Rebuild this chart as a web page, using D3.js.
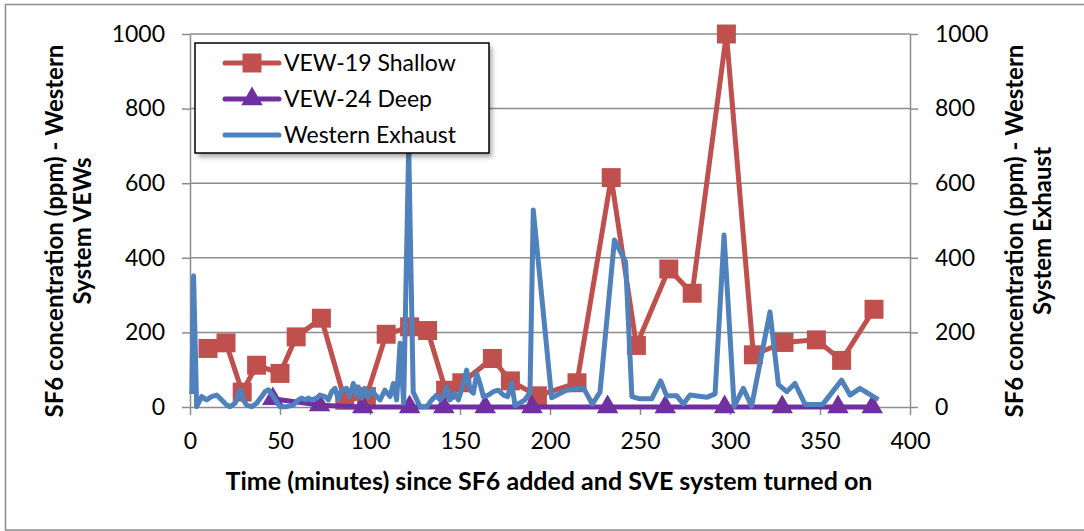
<!DOCTYPE html>
<html>
<head>
<meta charset="utf-8">
<script src="https://cdn.jsdelivr.net/npm/d3@7"></script>
<style>
  body { margin: 0; background: #fff; }
  svg { display: block; font-family: Lato, "Open Sans", sans-serif; }
</style>
</head>
<body>
<svg id="chart"></svg>
<script>
// series names
const seriesNames = ["VEW-19 Shallow", "VEW-24 Deep", "Western Exhaust"];

// VEW-19 Shallow (left axis)
const shallowTime = [10, 20, 29, 37, 50, 59, 73, 86, 98, 109, 122, 132, 142, 151,
  168, 178, 193, 215, 234, 248, 266, 279, 298, 313, 330, 348, 362, 380];
const shallowValue = [157, 172, 40, 112, 90, 188, 238, 18, 28, 195, 215, 205, 45, 65,
  130, 70, 30, 65, 615, 165, 370, 305, 1000, 140, 173, 180, 125, 262];

// VEW-24 Deep (left axis)
const deepTime = [46, 72, 96, 122, 141, 164, 190, 232, 264, 297, 329, 360, 379];
const deepValue = [22, 5, 0, 0, 0, 0, 0, 0, 0, 0, 0, 0, 0];

// Western Exhaust (right axis)
const exhaustTime = [
  1, 2, 3.7, 6.5, 9.3, 12, 14.8, 17.6, 20.4, 22.2,
  25, 27.8, 29.6, 31.5, 34.3, 37, 39.8, 41.7, 43.5, 46.3,
  48.1, 50, 53.7, 57.4, 60.2, 62, 63.9, 65.7, 67.6, 70.4,
  72.2, 75, 76.9, 78.7, 80.6, 82.4, 84.3, 87, 88.9, 90.7,
  92.6, 93.5, 95.4, 97.2, 99.1, 100.9, 103.7, 105.6, 108.3, 111.1,
  113, 114.8, 116.7, 118.7, 121.5, 124, 127.8, 131.5, 134.3, 137,
  138.9, 140.7, 142.6, 144.4, 147.2, 149.1, 151.9, 153.7, 155.6, 157.4,
  159.3, 161.1, 163, 165.7, 168.5, 171.3, 174.1, 176.5, 178.7, 180.6,
  186.1, 188.9, 190.7, 200.9, 209, 218.5, 223.5, 227.8, 235.8, 242,
  245.5, 250, 256.5, 261.5, 264.8, 270.4, 274.1, 277.8, 287, 291.7,
  296.7, 302.3, 307.4, 312, 322.2, 326.9, 331.5, 336.1, 341.7, 351.5,
  362, 366.7, 372.2, 382.4
];
const exhaustValue = [
  35, 352, 1, 28, 19, 28, 32, 19, 5, 1,
  10, 46, 19, 5, 1, 10, 28, 41, 46, 28,
  14, 1, 1, 5, 19, 24, 19, 24, 19, 24,
  32, 28, 19, 41, 50, 19, 46, 50, 28, 63,
  32, 54, 24, 50, 28, 45, 28, 19, 45, 28,
  63, 19, 171, 10, 700, 40, 1, 1, 19, 32,
  19, 28, 54, 19, 37, 19, 63, 99, 45, 37,
  90, 63, 28, 32, 41, 45, 32, 28, 65, 3,
  19, 40, 528, 25, 45, 52, 8, 40, 448, 389,
  28, 22, 22, 70, 30, 30, 8, 32, 26, 35,
  461, 2, 50, 2, 255, 60, 41, 63, 7, 7,
  72, 32, 50, 20
];

const xTicks = [0, 50, 100, 150, 200, 250, 300, 350, 400];
const yTicks = [0, 200, 400, 600, 800, 1000];

const xTitle = "Time (minutes) since SF6 added and SVE system turned on";
const leftTitle = ["SF6 concentration (ppm) - Western", "System VEWs"];
const rightTitle = ["SF6 concentration (ppm) - Western", "System Exhaust"];

const COLORS = { shallow: "#C0504D", deep: "#7030A0", exhaust: "#4F81BD" };

const WIDTH = 1084;
const HEIGHT = 531;
const PLOT_LEFT = 190;
const PLOT_RIGHT = 910;
const PLOT_TOP = 34;
const PLOT_BOTTOM = 407;
const GRID_COLOR = "#8c8c8c";
const LINE_WIDTH = 5;

const svg = d3.select("#chart").attr("width", WIDTH).attr("height", HEIGHT);

// outer chart frame
svg.append("rect")
  .attr("x", 5.5).attr("y", 4.5)
  .attr("width", 1100).attr("height", 525.5)
  .attr("fill", "#fff")
  .attr("stroke", GRID_COLOR)
  .attr("stroke-width", 1.5);

const xScale = d3.scaleLinear().domain([0, 400]).range([PLOT_LEFT, PLOT_RIGHT]);
const yLeft = d3.scaleLinear().domain([0, 1000]).range([PLOT_BOTTOM, PLOT_TOP]);
const yRight = d3.scaleLinear().domain([0, 1000]).range([PLOT_BOTTOM, PLOT_TOP]);

// horizontal grid
svg.append("g")
  .selectAll("line")
  .data(yTicks.filter((d) => d > 0))
  .join("line")
  .attr("x1", PLOT_LEFT).attr("x2", PLOT_RIGHT)
  .attr("y1", (d) => yLeft(d)).attr("y2", (d) => yLeft(d))
  .attr("stroke", GRID_COLOR)
  .attr("stroke-width", 1.5);

function styleAxis(g) {
  g.selectAll("path, line").attr("stroke", GRID_COLOR).attr("stroke-width", 1.5);
  g.selectAll("text")
    .attr("fill", "#000")
    .style("font-size", "23px")
    .style("font-family", "Lato, 'Open Sans', sans-serif");
}

const fmt = d3.format("d");

svg.append("g")
  .attr("transform", `translate(0, ${PLOT_BOTTOM})`)
  .call(d3.axisBottom(xScale).tickValues(xTicks).tickFormat(fmt)
    .tickSize(8).tickSizeOuter(0).tickPadding(18))
  .call(styleAxis);

svg.append("g")
  .attr("transform", `translate(${PLOT_LEFT}, 0)`)
  .call(d3.axisLeft(yLeft).tickValues(yTicks).tickFormat(fmt)
    .tickSize(8).tickSizeOuter(0).tickPadding(17))
  .call(styleAxis);

svg.append("g")
  .attr("transform", `translate(${PLOT_RIGHT}, 0)`)
  .call(d3.axisRight(yRight).tickValues(yTicks).tickFormat(fmt)
    .tickSize(8).tickSizeOuter(0).tickPadding(17))
  .call(styleAxis);

// axis titles
svg.append("text")
  .attr("x", 549).attr("y", 490)
  .attr("text-anchor", "middle")
  .style("font-size", "25px").style("font-weight", "bold")
  .text(xTitle);

function rotatedTitle(lines, xs) {
  lines.forEach((line, i) => {
    svg.append("text")
      .attr("transform", `translate(${xs[i]}, 231) rotate(-90)`)
      .attr("text-anchor", "middle")
      .style("font-size", "24px").style("font-weight", "bold")
      .text(line);
  });
}
rotatedTitle(leftTitle, [63, 91]);
rotatedTitle(rightTitle, [1023, 1051]);

// series
const lineLeft = d3.line().x((d) => xScale(d.t)).y((d) => yLeft(d.v));
const lineRight = d3.line().x((d) => xScale(d.t)).y((d) => yRight(d.v));

const shallow = shallowTime.map((t, i) => ({ t, v: shallowValue[i] }));
const deep = deepTime.map((t, i) => ({ t, v: deepValue[i] }));
const exhaust = exhaustTime.map((t, i) => ({ t, v: exhaustValue[i] }));

const squareSym = d3.symbol().type(d3.symbolSquare).size(360);
const triSym = d3.symbol().type(d3.symbolTriangle).size(200);

svg.append("path")
  .datum(shallow)
  .attr("d", lineLeft)
  .attr("fill", "none")
  .attr("stroke", COLORS.shallow)
  .attr("stroke-width", LINE_WIDTH)
  .attr("stroke-linejoin", "round");

svg.append("g")
  .selectAll("path")
  .data(shallow)
  .join("path")
  .attr("transform", (d) => `translate(${xScale(d.t)}, ${yLeft(d.v)})`)
  .attr("d", squareSym)
  .attr("fill", COLORS.shallow);

svg.append("path")
  .datum(deep)
  .attr("d", lineLeft)
  .attr("fill", "none")
  .attr("stroke", COLORS.deep)
  .attr("stroke-width", LINE_WIDTH)
  .attr("stroke-linejoin", "round");

svg.append("g")
  .selectAll("path")
  .data(deep)
  .join("path")
  .attr("transform", (d) => `translate(${xScale(d.t)}, ${yLeft(d.v)})`)
  .attr("d", triSym)
  .attr("fill", COLORS.deep);

svg.append("path")
  .datum(exhaust)
  .attr("d", lineRight)
  .attr("fill", "none")
  .attr("stroke", COLORS.exhaust)
  .attr("stroke-width", LINE_WIDTH)
  .attr("stroke-linejoin", "round");

// legend
const defs = svg.append("defs");
defs.append("filter").attr("id", "shadow")
  .attr("x", "-10%").attr("y", "-10%").attr("width", "130%").attr("height", "140%")
  .append("feGaussianBlur").attr("stdDeviation", 2.5);

const legend = svg.append("g").attr("transform", "translate(195, 43)");
legend.append("rect")
  .attr("x", 3).attr("y", 4)
  .attr("width", 294).attr("height", 110)
  .attr("fill", "#000").attr("fill-opacity", 0.35)
  .attr("filter", "url(#shadow)");
legend.append("rect")
  .attr("width", 294).attr("height", 110)
  .attr("fill", "#fff")
  .attr("stroke", "#000")
  .attr("stroke-width", 1.5);

const legendColors = [COLORS.shallow, COLORS.deep, COLORS.exhaust];
const legendSyms = [squareSym, triSym, null];

const rows = legend.selectAll(".legend-row")
  .data(seriesNames)
  .join("g")
  .classed("legend-row", true)
  .attr("transform", (d, i) => `translate(0, ${20 + i * 36})`);

rows.append("line")
  .attr("x1", 30).attr("x2", 84)
  .attr("stroke", (d, i) => legendColors[i])
  .attr("stroke-width", LINE_WIDTH)
  .attr("stroke-linecap", "round");

rows.filter((d, i) => legendSyms[i] !== null)
  .append("path")
  .attr("transform", "translate(57, 0)")
  .attr("d", (d) => legendSyms[seriesNames.indexOf(d)]())
  .attr("fill", (d) => legendColors[seriesNames.indexOf(d)]);

rows.append("text")
  .attr("x", 89).attr("dy", "0.35em")
  .style("font-size", "23px")
  .text((d) => d);
</script>
</body>
</html>
